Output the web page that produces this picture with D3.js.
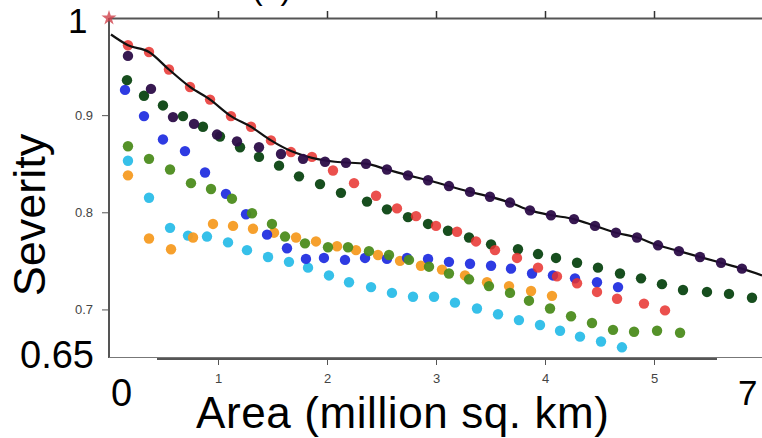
<!DOCTYPE html>
<html><head><meta charset="utf-8">
<script src="https://cdn.jsdelivr.net/npm/d3@7"></script>
<style>
html,body{margin:0;padding:0;background:#fff;}
svg{display:block;font-family:"Liberation Sans",Arial,sans-serif;}
</style></head>
<body><svg id="c" width="762" height="438"></svg>
<script>
// ---- data (Area in million sq. km, Severity) ----
const xTicks = [1, 2, 3, 4, 5];
const yTicks = [0.9, 0.8, 0.7];
const seriesNames = ["cyan", "orange", "blue", "olive", "darkgreen", "red", "purple"];
const seriesColors = ["#2bbde8", "#f59b22", "#2330e0", "#4c8c1e", "#0b4512", "#e8312e", "#2c0d48"];

const cyan = [[0.174,0.853],[0.367,0.815],[0.560,0.784],[0.725,0.776],[0.899,0.775],[1.092,0.769],[1.266,0.761],[1.459,0.754],[1.651,0.749],[1.826,0.743],[2.018,0.735],[2.202,0.728],[2.404,0.723],[2.596,0.717],[2.789,0.713],[2.982,0.713],[3.174,0.707],[3.376,0.701],[3.569,0.695],[3.761,0.689],[3.954,0.684],[4.138,0.678],[4.321,0.672],[4.514,0.667],[4.706,0.661]];
const orange = [[0.174,0.838],[0.367,0.773],[0.569,0.762],[0.771,0.774],[0.954,0.788],[1.138,0.786],[1.321,0.783],[1.514,0.779],[1.716,0.774],[1.899,0.770],[2.092,0.765],[2.266,0.761],[2.468,0.756],[2.670,0.750],[2.862,0.745],[3.055,0.741],[3.266,0.735],[3.468,0.728],[3.670,0.724],[3.872,0.719],[4.064,0.714]];
const blue = [[0.147,0.926],[0.321,0.899],[0.495,0.875],[0.697,0.863],[0.881,0.841],[1.073,0.819],[1.257,0.798],[1.450,0.777],[1.633,0.763],[1.807,0.752],[1.972,0.753],[2.165,0.751],[2.349,0.753],[2.550,0.752],[2.734,0.753],[2.927,0.752],[3.119,0.749],[3.312,0.747],[3.505,0.745],[3.688,0.742],[3.881,0.737],[4.073,0.735],[4.275,0.732],[4.477,0.728],[4.670,0.723]];
const olive = [[0.174,0.868],[0.367,0.855],[0.560,0.844],[0.752,0.830],[0.936,0.824],[1.128,0.814],[1.312,0.799],[1.495,0.788],[1.615,0.775],[1.798,0.768],[2.009,0.764],[2.193,0.764],[2.385,0.760],[2.569,0.756],[2.752,0.751],[2.936,0.744],[3.119,0.737],[3.303,0.731],[3.486,0.724],[3.679,0.717],[3.853,0.709],[4.046,0.701],[4.239,0.693],[4.431,0.686],[4.624,0.679],[4.817,0.677],[5.028,0.678],[5.239,0.676]];
const darkgreen = [[0.165,0.936],[0.321,0.920],[0.495,0.910],[0.679,0.899],[0.862,0.888],[1.018,0.878],[1.202,0.867],[1.376,0.857],[1.560,0.848],[1.743,0.837],[1.936,0.829],[2.128,0.820],[2.367,0.811],[2.550,0.803],[2.743,0.795],[2.927,0.788],[3.110,0.781],[3.303,0.774],[3.505,0.767],[3.752,0.762],[3.936,0.757],[4.101,0.753],[4.294,0.748],[4.486,0.743],[4.688,0.737],[4.881,0.732],[5.073,0.726],[5.266,0.720],[5.486,0.718],[5.688,0.716],[5.899,0.712]];
const red = [[0.174,0.972],[0.367,0.965],[0.550,0.947],[0.743,0.929],[0.927,0.916],[1.119,0.899],[1.303,0.888],[1.486,0.874],[1.670,0.862],[1.862,0.857],[2.055,0.843],[2.248,0.830],[2.450,0.817],[2.642,0.804],[2.817,0.796],[3.000,0.786],[3.193,0.780],[3.367,0.770],[3.541,0.761],[3.743,0.753],[3.936,0.743],[4.110,0.734],[4.294,0.727],[4.477,0.718],[4.661,0.711],[4.908,0.706],[5.101,0.699]];
const purple = [[0.174,0.961],[0.385,0.927],[0.587,0.898],[0.780,0.891],[0.991,0.880],[1.174,0.873],[1.376,0.867],[1.578,0.860],[1.780,0.855],[1.982,0.852],[2.174,0.851],[2.358,0.850],[2.550,0.844],[2.743,0.838],[2.927,0.833],[3.119,0.827],[3.312,0.821],[3.495,0.816],[3.679,0.810],[3.862,0.802],[4.055,0.797],[4.266,0.793],[4.459,0.786],[4.651,0.779],[4.844,0.774],[5.037,0.766],[5.229,0.760],[5.422,0.754],[5.615,0.748],[5.807,0.742]];
const fitLine = [[0.018,0.983],[0.174,0.972],[0.367,0.965],[0.550,0.947],[0.743,0.929],[0.927,0.916],[1.119,0.899],[1.303,0.888],[1.486,0.874],[1.670,0.863],[1.862,0.856],[2.073,0.852],[2.358,0.850],[2.550,0.844],[2.743,0.838],[2.927,0.833],[3.119,0.827],[3.312,0.821],[3.495,0.816],[3.679,0.810],[3.862,0.802],[4.055,0.797],[4.266,0.793],[4.459,0.786],[4.651,0.779],[4.844,0.774],[5.037,0.766],[5.229,0.760],[5.422,0.754],[5.615,0.748],[5.807,0.742],[5.991,0.735]];
const starPoint = [[0, 1]];
const seriesData = {cyan, orange, blue, olive, darkgreen, red, purple};

// ---- drawing ----
const svg = d3.select("#c");
const x = d3.scaleLinear().domain([0, 6]).range([109, 763]);
const y = d3.scaleLinear().domain([0.65, 1]).range([358, 18]);
const axisColor = "#555";

// plot frame pieces
svg.append("line").attr("x1", 109).attr("x2", 109).attr("y1", 18).attr("y2", 358)
  .attr("stroke", axisColor).attr("stroke-width", 2);
svg.append("line").attr("x1", 109).attr("x2", 762).attr("y1", 357.5).attr("y2", 357.5)
  .attr("stroke", "#777").attr("stroke-width", 1.2);

// top axis
const gTop = svg.append("g").attr("transform", "translate(0,18)")
  .call(d3.axisTop(x).tickValues(xTicks).tickSize(7).tickSizeOuter(0).tickFormat(""));
gTop.select(".domain").attr("stroke", axisColor).attr("stroke-width", 2);
gTop.selectAll(".tick line").attr("stroke", "#333").attr("stroke-width", 1.5);

// bottom axis
const gBot = svg.append("g").attr("transform", "translate(0,359)")
  .call(d3.axisBottom(x).tickValues(xTicks).tickSize(6).tickSizeOuter(0).tickPadding(9).tickFormat(d3.format("d")));
gBot.select(".domain").remove();
gBot.append("line").attr("x1", 157).attr("x2", 717).attr("y1", 0).attr("y2", 0)
  .attr("stroke", axisColor).attr("stroke-width", 2.2);
gBot.selectAll(".tick line").attr("stroke", "#555").attr("stroke-width", 1);
gBot.selectAll(".tick text").attr("fill", "#444").attr("font-size", 13)
  .attr("font-family", "Liberation Sans, Arial, sans-serif");

// left axis
const gLeft = svg.append("g").attr("transform", "translate(109,0)")
  .call(d3.axisLeft(y).tickValues(yTicks).tickSize(7).tickSizeOuter(0).tickPadding(9).tickFormat(d3.format(".1f")));
gLeft.select(".domain").remove();
gLeft.selectAll(".tick line").attr("stroke", "#555").attr("stroke-width", 1);
gLeft.selectAll(".tick text").attr("fill", "#444").attr("font-size", 13)
  .attr("font-family", "Liberation Sans, Arial, sans-serif");

// series (back to front)
const drawSeries = (name) => {
  const i = seriesNames.indexOf(name);
  svg.append("g").selectAll("circle").data(seriesData[name]).join("circle")
    .attr("cx", d => x(d[0])).attr("cy", d => y(d[1])).attr("r", 5.2)
    .attr("fill", seriesColors[i]).attr("fill-opacity", name === "red" ? 0.85 : 0.95);
};
["cyan", "orange", "blue", "olive", "darkgreen", "red"].forEach(drawSeries);

svg.append("path").datum(fitLine)
  .attr("d", d3.line().x(d => x(d[0])).y(d => y(d[1])).curve(d3.curveMonotoneX))
  .attr("fill", "none").attr("stroke", "#111").attr("stroke-width", 2.2);

drawSeries("purple");

svg.append("g").selectAll("path").data(starPoint).join("path")
  .attr("transform", d => `translate(${x(d[0])},${y(d[1])})`)
  .attr("d", d3.symbol(d3.symbolStar, 70))
  .attr("fill", "#d0404a").attr("fill-opacity", 0.8);

// big overlay labels
const big = (t, xx, yy, fs, anchor) => svg.append("text").text(t)
  .attr("x", xx).attr("y", yy).attr("font-size", fs).attr("fill", "#000")
  .attr("text-anchor", anchor || "start");
big("(b)", 252, -1, 32);
big("1", 68, 33, 35);
big("0.65", 20, 368, 38);
big("0", 111, 406, 38);
big("7", 738, 405, 35);
big("Area (million sq. km)", 196, 428, 44).attr("letter-spacing", 0.6);
svg.append("text").text("Severity")
  .attr("transform", "translate(45,215) rotate(-90)")
  .attr("text-anchor", "middle").attr("font-size", 45).attr("fill", "#000");
</script></body></html>
